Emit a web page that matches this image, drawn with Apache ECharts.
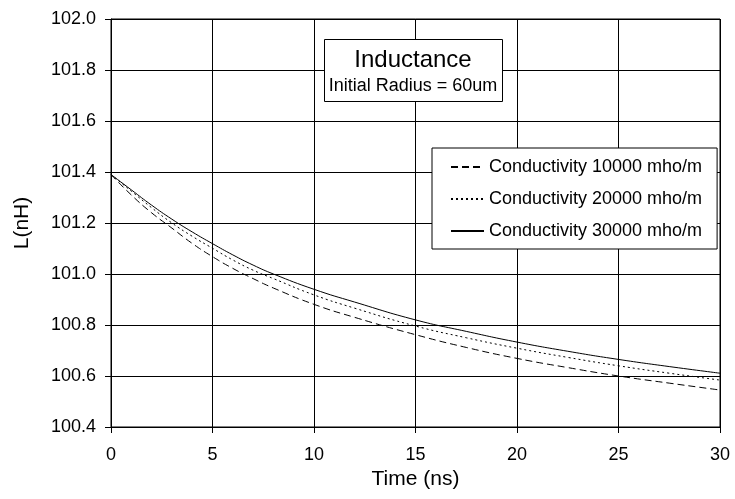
<!DOCTYPE html>
<html>
<head>
<meta charset="utf-8">
<script src="https://cdn.jsdelivr.net/npm/echarts@6/dist/echarts.min.js"></script>
<style>html,body{margin:0;padding:0;background:#fff;}#c{width:735px;height:499px;}</style>
</head>
<body>
<div id="c"></div>
<script>
var seriesNames = ['Conductivity 10000 mho/m', 'Conductivity 20000 mho/m', 'Conductivity 30000 mho/m'];
var timeNs = [0, 1, 2, 3, 4, 5, 6, 7, 8, 10, 12, 15, 17.5, 20, 22.5, 25, 27.5, 30];
var cond10000 = [101.39, 101.31, 101.24, 101.18, 101.12, 101.068, 101.022, 100.982, 100.945, 100.881, 100.83, 100.762, 100.712, 100.669, 100.633, 100.600, 100.572, 100.545];
var cond20000 = [101.39, 101.325, 101.26, 101.20, 101.148, 101.101, 101.055, 101.015, 100.982, 100.918, 100.866, 100.796, 100.750, 100.709, 100.673, 100.640, 100.611, 100.584];
var cond30000 = [101.39, 101.33, 101.27, 101.215, 101.165, 101.119, 101.075, 101.035, 101.0, 100.94, 100.89, 100.82, 100.775, 100.733, 100.697, 100.665, 100.637, 100.611];
var yTicks = ['100.4', '100.6', '100.8', '101.0', '101.2', '101.4', '101.6', '101.8', '102.0'];

function pairs(xs, ys) { return xs.map(function (x, i) { return [x, ys[i]]; }); }

var font = 'Liberation Sans, Arial, sans-serif';
var chart = echarts.init(document.getElementById('c'), null, { renderer: 'canvas' });
chart.setOption({
  backgroundColor: '#fff',
  animation: false,
  textStyle: { fontFamily: font, color: '#000' },
  grid: { left: 111, top: 19, width: 609, height: 408, show: true, borderColor: '#000', borderWidth: 1 },
  xAxis: {
    type: 'value', min: 0, max: 30, interval: 5,
    name: 'Time (ns)', nameLocation: 'middle', nameGap: 42,
    nameTextStyle: { fontSize: 21, color: '#000', fontFamily: font },
    axisLine: { show: true, onZero: false, lineStyle: { color: '#000', width: 1 } },
    axisTick: { show: true, length: 6, lineStyle: { color: '#000' } },
    axisLabel: { fontSize: 18, color: '#000', margin: 19, fontFamily: font },
    splitLine: { show: true, lineStyle: { color: '#000', width: 1 } }
  },
  yAxis: {
    type: 'value', min: 100.4, max: 102.0, interval: 0.2,
    name: 'L(nH)', nameLocation: 'middle', nameGap: 78, nameRotate: 90,
    nameTextStyle: { fontSize: 21, color: '#000', fontFamily: font },
    axisLine: { show: true, onZero: false, lineStyle: { color: '#000', width: 1 } },
    axisTick: { show: true, length: 6, lineStyle: { color: '#000' } },
    axisLabel: {
      fontSize: 18, color: '#000', margin: 15, fontFamily: font,
      formatter: function (v) {
        var s = v.toFixed(1);
        return yTicks.indexOf(s) >= 0 ? s : '';
      }
    },
    splitLine: { show: true, lineStyle: { color: '#000', width: 1 } }
  },
  legend: {
    orient: 'vertical', left: 432, top: 148,
    backgroundColor: '#fff', borderColor: '#000', borderWidth: 1,
    padding: [10, 15, 9, 18], itemGap: 14, itemWidth: 33, itemHeight: 18,
    itemStyle: { opacity: 0 },
    textStyle: { fontSize: 18, color: '#000', fontFamily: font },
    data: seriesNames
  },
  graphic: [
    { type: 'rect', shape: { x: 324.5, y: 39.5, width: 178, height: 62 }, style: { fill: '#fff', stroke: '#000', lineWidth: 1 }, z: 10 },
    { type: 'text', x: 413, y: 60, style: { text: 'Inductance', font: '24px ' + font, fill: '#000', textAlign: 'center', textVerticalAlign: 'middle' }, z: 11 },
    { type: 'text', x: 413, y: 86, style: { text: 'Initial Radius = 60um', font: '18px ' + font, fill: '#000', textAlign: 'center', textVerticalAlign: 'middle' }, z: 11 }
  ],
  series: [
    { name: seriesNames[0], type: 'line', smooth: true, symbol: 'none', data: pairs(timeNs, cond10000),
      lineStyle: { color: '#000', width: 1, type: [7, 4] }, itemStyle: { color: '#000' } },
    { name: seriesNames[1], type: 'line', smooth: true, symbol: 'none', data: pairs(timeNs, cond20000),
      lineStyle: { color: '#000', width: 1, type: [2, 3] }, itemStyle: { color: '#000' } },
    { name: seriesNames[2], type: 'line', smooth: true, symbol: 'none', data: pairs(timeNs, cond30000),
      lineStyle: { color: '#000', width: 1, type: 'solid' }, itemStyle: { color: '#000' } }
  ]
});
</script>
</body>
</html>
